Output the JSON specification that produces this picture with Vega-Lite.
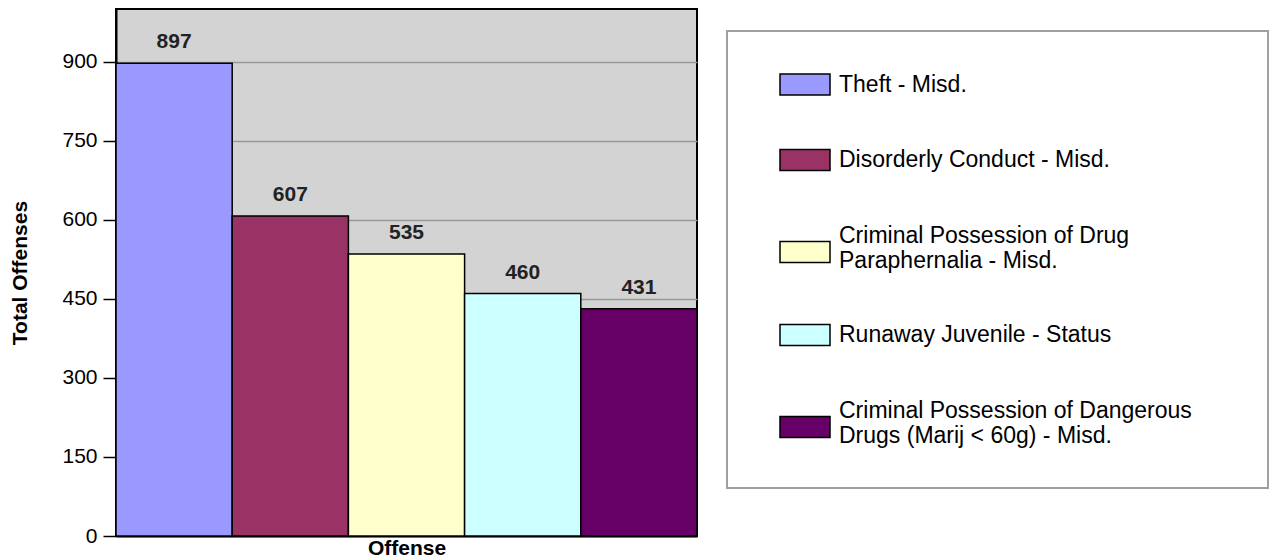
{
  "$schema": "https://vega.github.io/schema/vega-lite/v6.json",
  "width": 581,
  "height": 527,
  "autosize": {"type": "none"},
  "padding": {"left": 116, "top": 9, "right": 579, "bottom": 24},
  "background": "white",
  "data": {
    "values": [
      {"offense": "Theft - Misd.", "total": 897},
      {"offense": "Disorderly Conduct - Misd.", "total": 607},
      {"offense": "Criminal Possession of Drug Paraphernalia - Misd.", "total": 535},
      {"offense": "Runaway Juvenile - Status", "total": 460},
      {"offense": "Criminal Possession of Dangerous Drugs (Marij < 60g) - Misd.", "total": 431}
    ]
  },
  "encoding": {
    "x": {
      "field": "offense",
      "type": "nominal",
      "sort": null,
      "scale": {"paddingInner": 0, "paddingOuter": 0},
      "axis": {
        "labels": false,
        "ticks": false,
        "domain": true,
        "domainColor": "black",
        "domainWidth": 2,
        "title": "Offense",
        "titleFont": "Liberation Sans",
        "titleFontSize": 21,
        "titleFontWeight": "bold",
        "titleColor": "black",
        "titlePadding": 1
      }
    },
    "y": {
      "field": "total",
      "type": "quantitative",
      "scale": {"domain": [0, 1000], "nice": false},
      "axis": {
        "values": [0, 150, 300, 450, 600, 750, 900],
        "grid": true,
        "gridColor": "#999999",
        "gridWidth": 1.5,
        "domain": true,
        "domainColor": "black",
        "domainWidth": 2,
        "tickColor": "black",
        "tickSize": 13,
        "tickWidth": 1.5,
        "labelFont": "Liberation Sans",
        "labelFontSize": 21,
        "labelColor": "black",
        "labelPadding": 6,
        "title": "Total Offenses",
        "titleFont": "Liberation Sans",
        "titleFontSize": 21,
        "titleFontWeight": "bold",
        "titleColor": "black",
        "titlePadding": 31
      }
    }
  },
  "layer": [
    {
      "mark": {"type": "bar", "stroke": "black", "strokeWidth": 1.5},
      "encoding": {
        "color": {
          "field": "offense",
          "type": "nominal",
          "sort": null,
          "scale": {
            "domain": [
              "Theft - Misd.",
              "Disorderly Conduct - Misd.",
              "Criminal Possession of Drug Paraphernalia - Misd.",
              "Runaway Juvenile - Status",
              "Criminal Possession of Dangerous Drugs (Marij < 60g) - Misd."
            ],
            "range": ["#9999FF", "#993366", "#FFFFCC", "#CCFFFF", "#660066"]
          }
        }
      }
    },
    {
      "mark": {"type": "point", "filled": true, "opacity": 0},
      "encoding": {
        "color": {
          "field": "offense",
          "type": "nominal",
          "sort": null,
          "legend": {
            "title": " ",
            "titleOrient": "right",
            "titleFontSize": 8,
            "titlePadding": 36,
            "orient": "none",
            "legendX": 611,
            "legendY": 22,
            "direction": "vertical",
            "padding": 40,
            "fillColor": "white",
            "strokeColor": "#A0A0A0",
            "symbolSize": 625,
            "symbolStrokeColor": "black",
            "symbolStrokeWidth": 1.5,
            "symbolOpacity": 1,
            "symbolOffset": 12,
            "labelOffset": 33,
            "labelFont": "Liberation Sans",
            "labelFontSize": 23,
            "labelLineHeight": 26,
            "labelColor": "black",
            "labelLimit": 1000,
            "rowPadding": 48.5,
            "labelExpr": "datum.label == 'Criminal Possession of Drug Paraphernalia - Misd.' ? ['Criminal Possession of Drug', 'Paraphernalia - Misd.'] : datum.label == 'Criminal Possession of Dangerous Drugs (Marij < 60g) - Misd.' ? ['Criminal Possession of Dangerous', 'Drugs (Marij < 60g) - Misd.'] : datum.label"
          }
        },
        "shape": {
          "field": "offense",
          "type": "nominal",
          "sort": null,
          "scale": {
            "domain": [
              "Theft - Misd.",
              "Disorderly Conduct - Misd.",
              "Criminal Possession of Drug Paraphernalia - Misd.",
              "Runaway Juvenile - Status",
              "Criminal Possession of Dangerous Drugs (Marij < 60g) - Misd."
            ],
            "range": [
              "M-1,-0.84H3V0.84H-1Z",
              "M-1,-0.84H3V0.84H-1Z",
              "M-1,0.48H3V2.16H-1Z",
              "M-1,-0.84H3V0.84H-1Z",
              "M-1,0.48H3V2.16H-1Z"
            ]
          },
          "legend": {
            "title": " ",
            "titleOrient": "right",
            "titleFontSize": 8,
            "titlePadding": 36,
            "orient": "none",
            "legendX": 611,
            "legendY": 22,
            "direction": "vertical",
            "padding": 40,
            "fillColor": "white",
            "strokeColor": "#A0A0A0",
            "symbolSize": 625,
            "symbolStrokeColor": "black",
            "symbolStrokeWidth": 1.5,
            "symbolOpacity": 1,
            "symbolOffset": 12,
            "labelOffset": 33,
            "labelFont": "Liberation Sans",
            "labelFontSize": 23,
            "labelLineHeight": 26,
            "labelColor": "black",
            "labelLimit": 1000,
            "rowPadding": 48.5,
            "labelExpr": "datum.label == 'Criminal Possession of Drug Paraphernalia - Misd.' ? ['Criminal Possession of Drug', 'Paraphernalia - Misd.'] : datum.label == 'Criminal Possession of Dangerous Drugs (Marij < 60g) - Misd.' ? ['Criminal Possession of Dangerous', 'Drugs (Marij < 60g) - Misd.'] : datum.label"
          }
        }
      }
    },
    {
      "mark": {
        "type": "text",
        "baseline": "alphabetic",
        "dy": -15,
        "font": "Liberation Sans",
        "fontSize": 21,
        "fontWeight": "bold",
        "color": "#222222"
      },
      "encoding": {
        "text": {"field": "total", "type": "quantitative"}
      }
    }
  ],
  "config": {
    "view": {"fill": "#D3D3D3", "stroke": "black", "strokeWidth": 2},
    "legend": {"strokeWidth": 2}
  }
}
